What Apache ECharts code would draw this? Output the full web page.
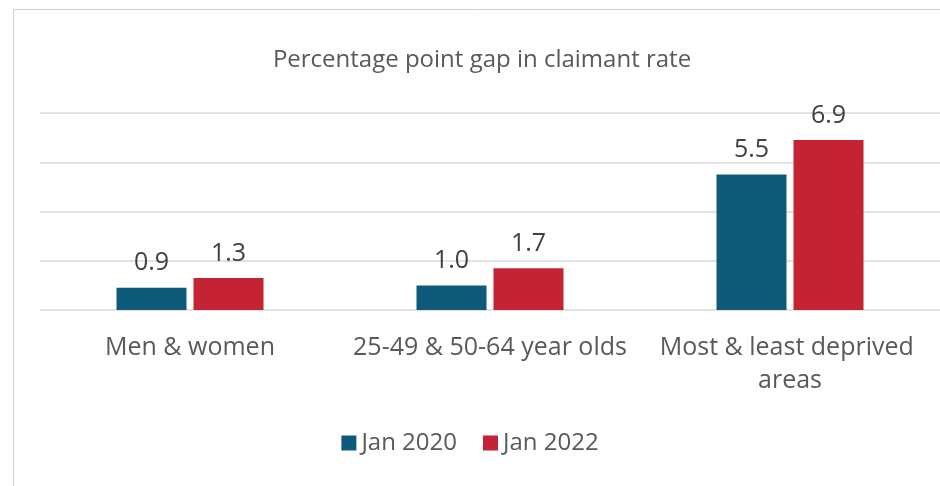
<!DOCTYPE html>
<html><head><meta charset="utf-8">
<script src="https://cdn.jsdelivr.net/npm/echarts@6/dist/echarts.min.js"></script>
<style>html,body{margin:0;padding:0;background:#fff}#c{width:940px;height:486px}</style>
</head><body><div id="c"></div>
<script>
const categories = ['Men & women', '25-49 & 50-64 year olds', 'Most & least deprived areas'];
const seriesNames = ['Jan 2020', 'Jan 2022'];
const jan2020 = [0.9, 1.0, 5.5];
const jan2022 = [1.3, 1.7, 6.9];
const colors = ['#0e5a7b', '#c42334'];
const FONT = '"Open Sans", Lato, sans-serif';
const chart = echarts.init(document.getElementById('c'));
chart.setOption({
  animation: false,
  backgroundColor: '#fff',
  graphic: [{type:'rect', shape:{x:13.5,y:9.5,width:940,height:500}, style:{fill:'none', stroke:'#d0d0d0', lineWidth:1}, silent:true}],
  title: {text: 'Percentage point gap in claimant rate', left: 477, textAlign: 'center', top: 43,
    textStyle: {fontFamily: FONT, fontSize: 24, fontWeight: 'normal', color: '#595959'}},
  legend: {data: seriesNames, top: 426, left: 'center', itemWidth: 15, itemHeight: 15, itemGap: 26, icon: 'rect',
    textStyle: {fontFamily: FONT, fontSize: 24, color: '#595959'}},
  grid: {left: 40, right: 0, top: 113, bottom: 176},
  xAxis: {type: 'category', data: categories,
    axisLine: {show: false}, axisTick: {show: false},
    axisLabel: {fontFamily: FONT, fontSize: 25, color: '#595959', margin: 21, lineHeight: 33, width: 275, overflow: 'break', interval: 0}},
  yAxis: {type: 'value', min: 0, max: 8, interval: 2,
    axisLabel: {show: false}, axisLine: {show: false}, axisTick: {show: false},
    splitLine: {lineStyle: {color: '#d9d9d9', width: 1.5}}},
  series: [
    {name: seriesNames[0], type: 'bar', data: jan2020, barWidth: 70, barGap: '10%', itemStyle: {color: colors[0]},
      label: {show: true, position: 'top', distance: 12, formatter: p => p.value.toFixed(1), fontFamily: FONT, fontSize: 25, color: '#404040'}},
    {name: seriesNames[1], type: 'bar', data: jan2022, barWidth: 70, itemStyle: {color: colors[1]},
      label: {show: true, position: 'top', distance: 12, formatter: p => p.value.toFixed(1), fontFamily: FONT, fontSize: 25, color: '#404040'}}
  ]
});
</script></body></html>
